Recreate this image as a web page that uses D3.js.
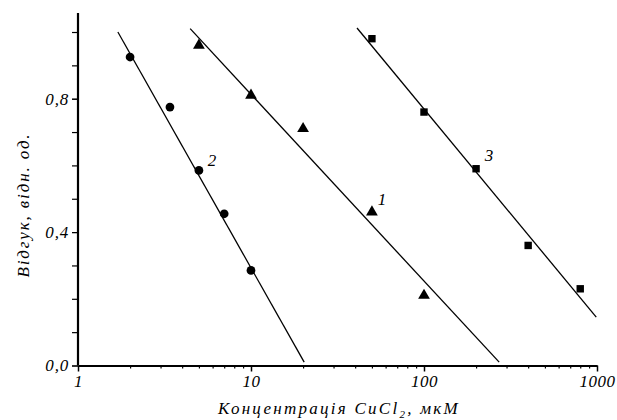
<!DOCTYPE html>
<html>
<head>
<meta charset="utf-8">
<script src="https://cdn.jsdelivr.net/npm/d3@7"></script>
<style>
  body { margin: 0; background: #fff; }
  svg text { font-style: italic; fill: #000; }
</style>
</head>
<body>
<div id="chart"></div>
<script>
// ---- data ----
var conc1 = [5, 10, 20, 50, 100];          // triangles, curve 1
var resp1 = [0.96, 0.81, 0.71, 0.46, 0.21];
var conc2 = [2, 3.4, 5, 7, 10];            // circles, curve 2
var resp2 = [0.925, 0.775, 0.585, 0.455, 0.285];
var conc3 = [50, 100, 200, 400, 800];      // squares, curve 3
var resp3 = [0.98, 0.76, 0.59, 0.36, 0.23];

// fitted lines (end points)
var fit1X = [4.45, 272], fit1Y = [1.01, 0.01];
var fit2X = [1.70, 20.3], fit2Y = [1.0, 0.01];
var fit3X = [41, 990],   fit3Y = [1.012, 0.145];

var xTickLabels = [1, 10, 100, 1000];
var yTickLabels = [0.0, 0.4, 0.8];
var yMinorTicks = [0, 0.1, 0.2, 0.3, 0.4, 0.5, 0.6, 0.7, 0.8, 0.9, 1.0];

var width = 617, height = 420;
var serif = "'Liberation Serif', 'Times New Roman', serif";

var svg = d3.select("#chart").append("svg")
  .attr("width", width)
  .attr("height", height);

var x = d3.scaleLog().domain([1, 1000]).range([78, 597]);
var y = d3.scaleLinear().domain([0, 1.057]).range([365.5, 13]);

// minor x ticks 2..9 in each decade
var xMinor = [];
[1, 10, 100].forEach(function(d) {
  for (var k = 2; k <= 9; k++) xMinor.push(d * k);
});

var fmtY = function(d) { return d3.format(".1f")(d).replace(".", ","); };

// x axis
svg.append("g")
  .attr("transform", "translate(0," + y(0) + ")")
  .call(d3.axisBottom(x).tickValues(xMinor).tickSize(3).tickFormat(""))
  .call(function(g) { g.select(".domain").remove(); g.selectAll("line").attr("stroke-width", 1.2); });

var xAxis = svg.append("g")
  .attr("transform", "translate(0," + y(0) + ")")
  .call(d3.axisBottom(x).tickValues(xTickLabels).tickSize(6).tickSizeOuter(0).tickPadding(3)
    .tickFormat(d3.format("d")));
xAxis.attr("font-family", serif).attr("font-size", 17);
xAxis.selectAll("text").attr("letter-spacing", "0.5px");
xAxis.select(".domain").attr("stroke-width", 2);
xAxis.selectAll("line").attr("stroke-width", 1.5);

// y axis
svg.append("g")
  .attr("transform", "translate(" + x(1) + ",0)")
  .call(d3.axisLeft(y).tickValues(yMinorTicks).tickSize(6).tickFormat(""))
  .call(function(g) { g.select(".domain").remove(); g.selectAll("line").attr("stroke-width", 1.2); });

var yAxis = svg.append("g")
  .attr("transform", "translate(" + x(1) + ",0)")
  .call(d3.axisLeft(y).tickValues(yTickLabels).tickSize(6).tickSizeOuter(0).tickPadding(3)
    .tickFormat(fmtY));
yAxis.attr("font-family", serif).attr("font-size", 17);
yAxis.selectAll("text").attr("letter-spacing", "0.8px");
yAxis.select(".domain").attr("d", "M0," + y(0) + "V" + y.range()[1]).attr("stroke-width", 2.2);
svg.selectAll(".domain, .tick line").attr("stroke", "#000");

// spread a title so it spans the width it has in the figure
function spread(t, target) {
  var n = t.text().length;
  var len = t.node().getComputedTextLength();
  t.attr("letter-spacing", Math.max(0, (target - len) / n) + "px");
}

// axis titles
var xt = svg.append("text")
  .attr("x", 339)
  .attr("y", 414)
  .attr("text-anchor", "middle")
  .attr("font-family", serif)
  .attr("font-size", 17);
xt.append("tspan").text("Концентрація CuCl");
xt.append("tspan").attr("font-size", 11).attr("dy", 4).text("2");
xt.append("tspan").attr("dy", -4).text(", мкМ");
spread(xt, 242);

var yt = svg.append("text")
  .attr("transform", "translate(29,205) rotate(-90)")
  .attr("text-anchor", "middle")
  .attr("font-family", serif)
  .attr("font-size", 17)
  .text("Відгук, відн. од.");
spread(yt, 145);

// fitted lines
var line = d3.line()
  .x(function(d) { return x(d[0]); })
  .y(function(d) { return y(d[1]); });

[[fit1X, fit1Y], [fit2X, fit2Y], [fit3X, fit3Y]].forEach(function(f) {
  svg.append("path")
    .datum(d3.zip(f[0], f[1]))
    .attr("d", line)
    .attr("fill", "none")
    .attr("stroke", "#000")
    .attr("stroke-width", 1.3);
});

// markers
function drawPoints(xs, ys, symbol, size) {
  svg.append("g").selectAll("path")
    .data(d3.zip(xs, ys))
    .enter().append("path")
    .attr("transform", function(d) { return "translate(" + x(d[0]) + "," + y(d[1]) + ")"; })
    .attr("d", d3.symbol().type(symbol).size(size))
    .attr("fill", "#000");
}
drawPoints(conc1, resp1, d3.symbolTriangle, 60);
drawPoints(conc2, resp2, d3.symbolCircle, 60);
drawPoints(conc3, resp3, d3.symbolSquare, 55);

// curve numbers next to one point of each curve
function curveLabel(xs, ys, i, dx, dy, t) {
  svg.append("text")
    .attr("x", x(xs[i]) + dx)
    .attr("y", y(ys[i]) + dy)
    .attr("text-anchor", "middle")
    .attr("font-family", serif)
    .attr("font-size", 17)
    .text(t);
}
curveLabel(conc1, resp1, 3, 10, -7, "1");
curveLabel(conc2, resp2, 2, 13, -4, "2");
curveLabel(conc3, resp3, 2, 13, -8, "3");
</script>
</body>
</html>
